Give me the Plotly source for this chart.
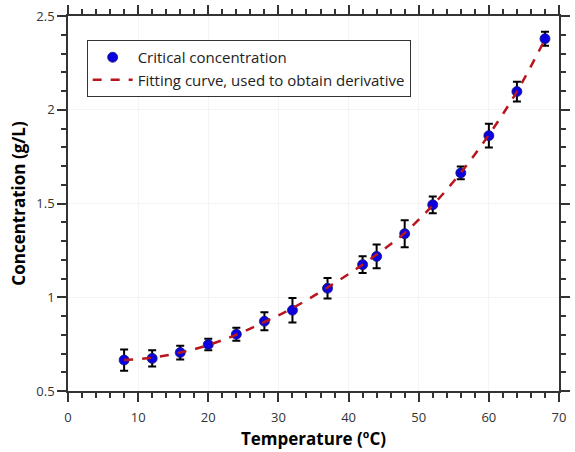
import plotly.graph_objects as go

temperature = [8, 12, 16, 20, 24, 28, 32, 37, 42, 44, 48, 52, 56, 60, 64, 68]
concentration = [0.665, 0.674, 0.705, 0.748, 0.803, 0.872, 0.931, 1.048,
                 1.174, 1.218, 1.339, 1.493, 1.663, 1.862, 2.097, 2.379]
error = [0.057, 0.043, 0.037, 0.031, 0.035, 0.048, 0.065, 0.055,
         0.045, 0.063, 0.072, 0.045, 0.034, 0.063, 0.053, 0.037]
fit_values = [0.665, 0.678, 0.705, 0.745, 0.800, 0.868, 0.942, 1.052,
              1.174, 1.228, 1.343, 1.491, 1.664, 1.866, 2.097, 2.375]

font_family = "Open Sans, DejaVu Sans, sans-serif"

fig = go.Figure()
fig.add_trace(go.Scatter(
    x=temperature, y=concentration, mode="markers",
    name="Critical concentration",
    marker=dict(color="#0a00e0", size=10, line=dict(color="#1a1a6a", width=0.8)),
    error_y=dict(type="data", array=error, color="black", thickness=2, width=4),
))
fig.add_trace(go.Scatter(
    x=temperature, y=fit_values, mode="lines",
    name="Fitting curve, used to obtain derivative",
    line=dict(color="#b8151c", width=2.5, dash="dash", shape="spline"),
))

axis_common = dict(
    showline=True, linecolor="#333333", linewidth=1.5, mirror="allticks",
    ticks="outside", tickcolor="#333333", tickwidth=1.5, ticklen=9,
    showgrid=True, gridcolor="#f4f4f4", gridwidth=1, zeroline=False,
    tickfont=dict(family=font_family, size=13, color="#333333"),
)

fig.update_xaxes(
    range=[0, 70], dtick=10, tick0=0, ticklabelstandoff=5,
    minor=dict(dtick=2, ticks="outside", ticklen=5, tickcolor="#333333", showgrid=False),
    title=dict(text="Temperature (ºC)", font=dict(family=font_family, size=17, color="black", weight="bold"), standoff=8),
    **axis_common,
)
fig.update_yaxes(
    range=[0.5, 2.5], dtick=0.5, tick0=0.5,
    minor=dict(dtick=0.1, ticks="outside", ticklen=5, tickcolor="#333333", showgrid=False),
    title=dict(text="Concentration (g/L)", font=dict(family=font_family, size=17, color="black", weight="bold"), standoff=6),
    **axis_common,
)

fig.update_layout(
    width=575, height=452,
    margin=dict(l=68, r=5, t=15, b=61),
    plot_bgcolor="white", paper_bgcolor="white",
    font=dict(family=font_family, size=15, color="#222222"),
    legend=dict(
        x=0.038, y=0.936, xanchor="left", yanchor="top",
        bgcolor="white", bordercolor="#333333", borderwidth=1,
        font=dict(family=font_family, size=15, color="#222222"),
        itemwidth=40, tracegroupgap=0,
    ),
    showlegend=True,
)

fig.write_html("out.html")
